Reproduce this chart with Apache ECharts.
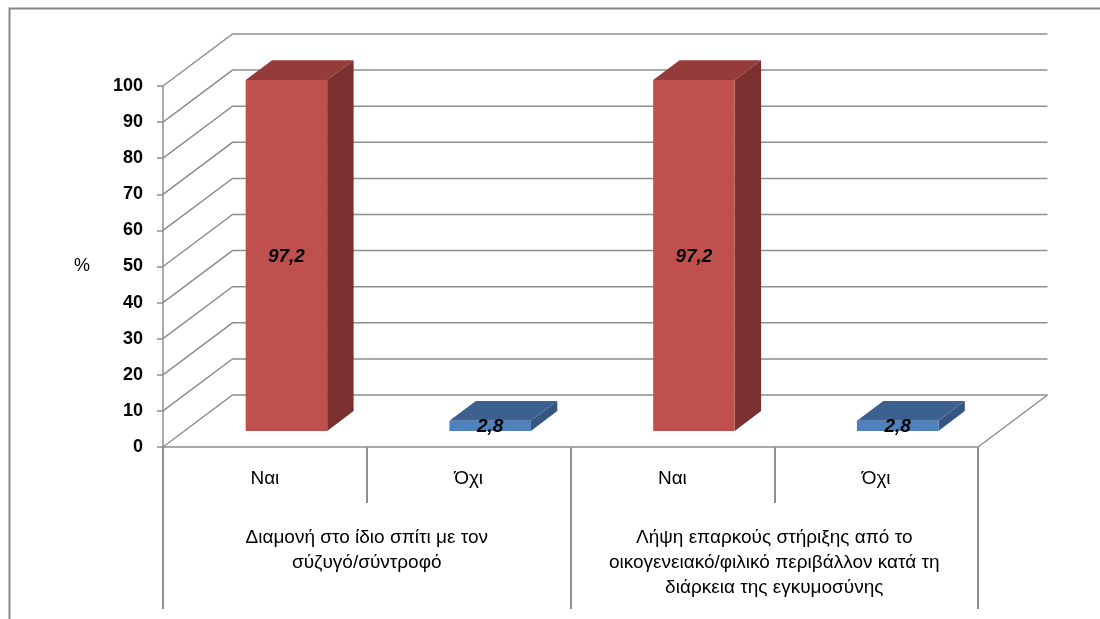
<!DOCTYPE html>
<html>
<head>
<meta charset="utf-8">
<script src="https://cdn.jsdelivr.net/npm/echarts@6/dist/echarts.min.js"></script>
<style>
  html, body { margin: 0; padding: 0; background: #fff; }
  #chart { width: 1100px; height: 619px; }
</style>
</head>
<body>
<div id="chart"></div>
<script>
// Answers along the category axis, two per question
const categories = ['Ναι', 'Όχι', 'Ναι', 'Όχι'];
// Question captions under each pair of answers
const groups = [
  'Διαμονή στο ίδιο σπίτι με τον\nσύζυγό/σύντροφό',
  'Λήψη επαρκούς στήριξης από το\nοικογενειακό/φιλικό περιβάλλον κατά τη\nδιάρκεια της εγκυμοσύνης'
];
// Percentages per answer
const values = [97.2, 2.8, 97.2, 2.8];
// Value-axis gridline levels
const gridLevels = [0, 10, 20, 30, 40, 50, 60, 70, 80, 90, 100];

// Perspective: offset from the front plane to the back wall
const DEPTH_X = 69.5, DEPTH_Y = -52;
const BAR_FRONT = 0.31, BAR_BACK = 0.69, BAR_WIDTH = 0.40;
const GRID_COLOR = '#8f8f8f';
const FONT = 'Liberation Sans';

const palette = {
  'Ναι': { front: '#C0504D', top: '#953B39', side: '#7A302E' },
  'Όχι': { front: '#4F81BD', top: '#3C6191', side: '#345680' }
};

const chart = echarts.init(document.getElementById('chart'), null, { renderer: 'canvas' });

const gridBox = { left: 163, right: 122, top: 86, bottom: 172 };

function renderWall(params, api) {
  const cs = params.coordSys;
  const v = api.value(1);
  const y = api.coord([0, v])[1];
  const x0 = cs.x, x1 = cs.x + cs.width;
  const children = [{
    type: 'polyline',
    shape: { points: [[x0, y], [x0 + DEPTH_X, y + DEPTH_Y], [x1 + DEPTH_X, y + DEPTH_Y]] },
    style: { stroke: GRID_COLOR, lineWidth: 1.5, fill: null }
  }];
  if (v === 0) {
    children.push({
      type: 'line',
      shape: { x1: x1, y1: y, x2: x1 + DEPTH_X, y2: y + DEPTH_Y },
      style: { stroke: GRID_COLOR, lineWidth: 1.5 }
    });
  }
  return { type: 'group', children: children };
}

function renderBar(params, api) {
  const idx = api.value(0);
  const v = api.value(1);
  const base = api.coord([idx, 0]);
  const top = api.coord([idx, v]);
  const band = api.size([1, 0])[0];
  const w = band * BAR_WIDTH;
  const fx = base[0] + BAR_FRONT * DEPTH_X - w / 2;
  const by = base[1] + BAR_FRONT * DEPTH_Y;
  const ty = top[1] + BAR_FRONT * DEPTH_Y;
  const dx = (BAR_BACK - BAR_FRONT) * DEPTH_X;
  const dy = (BAR_BACK - BAR_FRONT) * DEPTH_Y;
  const c = palette[categories[idx]];
  return {
    type: 'group',
    children: [
      { type: 'polygon', shape: { points: [[fx + w, ty], [fx + w, by], [fx + w + dx, by + dy], [fx + w + dx, ty + dy]] },
        style: { fill: c.side } },
      { type: 'polygon', shape: { points: [[fx, ty], [fx + w, ty], [fx + w + dx, ty + dy], [fx + dx, ty + dy]] },
        style: { fill: c.top } },
      { type: 'rect', shape: { x: fx, y: ty, width: w, height: by - ty },
        style: { fill: c.front } },
      { type: 'text', x: fx + w / 2, y: (ty + by) / 2 + 1,
        style: { text: String(v).replace('.', ','), align: 'center', verticalAlign: 'middle',
          font: 'italic bold 19px "' + FONT + '"', fill: '#000' } }
    ]
  };
}

chart.setOption({
  animation: false,
  backgroundColor: '#fff',
  graphic: [{
    type: 'rect', left: 7, top: 6, silent: true,
    shape: { x: 0, y: 0, width: 1300, height: 800 },
    style: { fill: null, stroke: '#878787', lineWidth: 2 }
  }],
  grid: [
    Object.assign({}, gridBox),
    Object.assign({}, gridBox)
  ],
  xAxis: [{
    type: 'category', gridIndex: 0, data: categories, position: 'bottom',
    axisLine: { lineStyle: { color: GRID_COLOR, width: 1.5 } },
    axisTick: { show: true, interval: 0, length: 56, lineStyle: { color: GRID_COLOR, width: 2 } },
    axisLabel: { interval: 0, margin: 22, fontFamily: FONT, fontSize: 19, color: '#000' },
    splitLine: { show: false }
  }, {
    type: 'category', gridIndex: 1, data: groups, position: 'bottom',
    axisLine: { show: false },
    axisTick: { show: true, interval: 0, length: 162, lineStyle: { color: GRID_COLOR, width: 2 } },
    axisLabel: { interval: 0, margin: 78, fontFamily: FONT, fontSize: 19, color: '#000', lineHeight: 25, verticalAlign: 'top' },
    splitLine: { show: false }
  }],
  yAxis: [{
    type: 'value', gridIndex: 0, min: 0, max: 100, interval: 10,
    name: '%', nameLocation: 'middle', nameRotate: 0, nameGap: 73,
    nameTextStyle: { fontFamily: FONT, fontSize: 18, color: '#000', padding: [14, 0, 0, 0] },
    axisLine: { show: true, lineStyle: { color: GRID_COLOR, width: 1.5 } },
    axisTick: { show: true, length: 6, lineStyle: { color: GRID_COLOR, width: 1.5 } },
    axisLabel: { margin: 20, fontFamily: FONT, fontWeight: 'bold', fontSize: 18, color: '#000' },
    splitLine: { show: false }
  }, {
    type: 'value', gridIndex: 1, min: 0, max: 100, show: false
  }],
  series: [{
    type: 'custom', xAxisIndex: 0, yAxisIndex: 0, silent: true, z: 1,
    renderItem: renderWall,
    data: gridLevels.map(v => [0, v])
  }, {
    type: 'custom', xAxisIndex: 0, yAxisIndex: 0, silent: true, z: 3,
    renderItem: renderBar,
    data: values.map((v, i) => [i, v])
  }]
});
</script>
</body>
</html>
